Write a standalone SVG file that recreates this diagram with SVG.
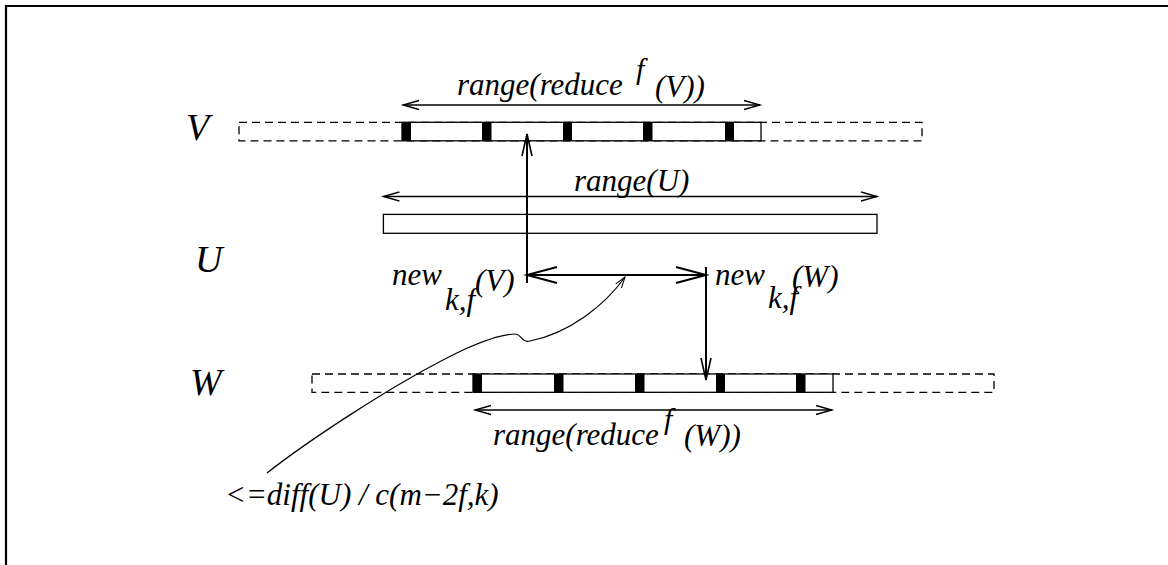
<svg xmlns="http://www.w3.org/2000/svg" width="1168" height="565" viewBox="0 0 1168 565">
<style>
  text { font-family: "Liberation Serif", "Times New Roman", serif; font-style: italic; fill: #000; }
  .t { font-size: 31px; }
  .lbl { font-size: 38px; }
  .sup { font-size: 30px; }
  .dash { fill: none; stroke: #000; stroke-width: 1.3; stroke-dasharray: 8 5; }
  .bar { fill: #fff; stroke: #000; stroke-width: 1.3; }
  .tick { fill: #000; }
  .rng { fill: none; stroke: #000; stroke-width: 1.3; marker-start: url(#openS); marker-end: url(#openE); }
  .vert { fill: none; stroke: #000; stroke-width: 2; }
  .frame { fill: none; stroke: #000; stroke-width: 2.2; }
</style>
<defs>
  <marker id="openE" markerUnits="userSpaceOnUse" markerWidth="40" markerHeight="40" refX="0" refY="0" orient="auto" overflow="visible">
    <path d="M-16,-4.5 L0,0 L-16,4.5" fill="none" stroke="#000" stroke-width="1.3"/>
  </marker>
  <marker id="openS" markerUnits="userSpaceOnUse" markerWidth="40" markerHeight="40" refX="0" refY="0" orient="auto-start-reverse" overflow="visible">
    <path d="M-16,-4.5 L0,0 L-16,4.5" fill="none" stroke="#000" stroke-width="1.3"/>
  </marker>
  <marker id="vhead" markerUnits="userSpaceOnUse" markerWidth="40" markerHeight="40" refX="0" refY="0" orient="auto" overflow="visible">
    <path d="M-22,-5 L0,0 L-22,5" fill="none" stroke="#000" stroke-width="1.6"/>
  </marker>
  <marker id="bigE" markerUnits="userSpaceOnUse" markerWidth="60" markerHeight="40" refX="0" refY="0" orient="auto" overflow="visible">
    <path d="M-30,-8 L0,0 L-30,8" fill="none" stroke="#000" stroke-width="2"/>
  </marker>
  <marker id="bigS" markerUnits="userSpaceOnUse" markerWidth="60" markerHeight="40" refX="0" refY="0" orient="auto-start-reverse" overflow="visible">
    <path d="M-30,-8 L0,0 L-30,8" fill="none" stroke="#000" stroke-width="2"/>
  </marker>
  <marker id="smallE" markerUnits="userSpaceOnUse" markerWidth="30" markerHeight="30" refX="0" refY="0" orient="auto" overflow="visible">
    <path d="M-11,-3.5 L0,0 L-11,3.5" fill="none" stroke="#000" stroke-width="1"/>
  </marker>
</defs>

<rect width="1168" height="565" fill="#fff"/>
<path class="frame" d="M6,565 V6 H1168"/>

<g id="node-V">
  <text class="lbl" x="186" y="140">V</text>
  <rect class="dash" x="239" y="122.3" width="683" height="18.5"/>
  <rect class="bar" x="402" y="122.3" width="359" height="18.5"/>
  <rect class="tick" x="402" y="122.3" width="9" height="18.5"/>
  <rect class="tick" x="482" y="122.3" width="9.5" height="18.5"/>
  <rect class="tick" x="563" y="122.3" width="9" height="18.5"/>
  <rect class="tick" x="643" y="122.3" width="9.5" height="18.5"/>
  <rect class="tick" x="725" y="122.3" width="9" height="18.5"/>
  <text class="t" x="457" y="95">range(reduce</text>
  <text class="sup" x="636" y="79">f</text>
  <text class="t" x="655" y="97">(V))</text>
</g>

<g id="node-U">
  <text class="lbl" x="195" y="272">U</text>
  <rect class="bar" x="383.4" y="214.4" width="493.6" height="18.9"/>
  <text class="t" x="574" y="191">range(U)</text>
</g>

<g id="node-W">
  <text class="lbl" x="190" y="395">W</text>
  <rect class="dash" x="312" y="374" width="682" height="18.3"/>
  <rect class="bar" x="473" y="374" width="360" height="18.3"/>
  <rect class="tick" x="473" y="374" width="9" height="18.3"/>
  <rect class="tick" x="554" y="374" width="9.5" height="18.3"/>
  <rect class="tick" x="635" y="374" width="9.5" height="18.3"/>
  <rect class="tick" x="716" y="374" width="9" height="18.3"/>
  <rect class="tick" x="796" y="374" width="9.5" height="18.3"/>
  <text class="t" x="493" y="445">range(reduce</text>
  <text class="sup" x="664" y="429">f</text>
  <text class="t" x="684" y="446">(W))</text>
</g>

<g id="node-newV">
  <text class="t" x="392" y="285">new</text>
  <text class="t" x="445" y="310">k,f</text>
  <text class="t" x="475" y="291">(V)</text>
</g>

<g id="node-newW">
  <text class="t" x="715" y="285">new</text>
  <text class="t" x="768" y="308">k,f</text>
  <text class="t" x="792" y="287">(W)</text>
</g>

<g id="node-bound">
  <text class="t" x="225" y="505">&lt;=diff(U) / c(m−2f,k)</text>
</g>

<g id="connectors">
  <line class="rng" x1="403" y1="105" x2="760" y2="105"/>
  <line class="rng" x1="383.4" y1="196.5" x2="877" y2="196.5"/>
  <line class="rng" x1="475" y1="410" x2="832" y2="410"/>
  <line class="vert" x1="527" y1="283" x2="527" y2="134" marker-end="url(#vhead)"/>
  <line class="vert" x1="706" y1="267" x2="706" y2="380" marker-end="url(#vhead)"/>
  <line class="vert" x1="527" y1="275" x2="706" y2="275" marker-start="url(#bigS)" marker-end="url(#bigE)"/>
  <path d="M267,473 C300,447 390,385 463,350 C485,340 505,334 515,334 C522,334 521,343 530,341 C570,333 605,305 625,277" fill="none" stroke="#000" stroke-width="1.2" marker-end="url(#smallE)"/>
</g>
</svg>
